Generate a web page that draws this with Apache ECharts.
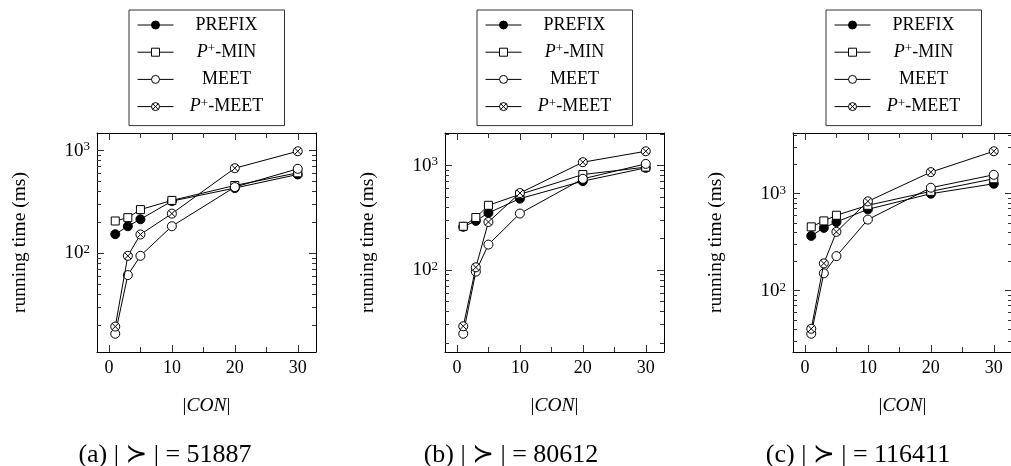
<!DOCTYPE html>
<html><head><meta charset="utf-8">
<script src="https://cdn.jsdelivr.net/npm/echarts@6/dist/echarts.min.js"></script>
<style>html,body{margin:0;padding:0;background:#fff}#c{width:1011px;height:466px}</style>
</head><body><div id="c"></div>
<script>
// ---------- data ----------
const conValues = [1, 3, 5, 10, 20, 30];
const seriesNames = ['PREFIX', 'P+-MIN', 'MEET', 'P+-MEET'];

const prefixA = [154, 184, 215, 323, 432, 586];
const pminA   = [207, 223, 267, 328, 458, 608];
const meetA   = [16.6, 61.7, 94.9, 184, 442, 665];
const pmeetA  = [19.5, 94.9, 153, 244, 674, 985];

const prefixB = [259, 295, 352, 482, 709, 950];
const pminB   = [262, 318, 416, 529, 820, 965];
const meetB   = [24.5, 96.4, 175, 347, 746, 1037];
const pmeetB  = [28.9, 106, 288, 545, 1076, 1370];

const prefixC = [367, 444, 511, 690, 1000, 1267];
const pminC   = [455, 524, 599, 759, 1057, 1426];
const meetC   = [35.9, 151, 227, 541, 1153, 1567];
const pmeetC  = [40.4, 191, 404, 834, 1670, 2742];

const captions = ['(a) | \u227B | = 51887', '(b) | \u227B | = 80612', '(c) | \u227B | = 116411'];
const xTickMajor = [0, 10, 20, 30];
const xTickMinor = [5, 15, 25];
const yDecades = [10, 100, 1000, 10000];
const yMinorMult = [2, 3, 4, 5, 6, 7, 8, 9];

// ---------- layout ----------
const panels = [[prefixA, pminA, meetA, pmeetA], [prefixB, pminB, meetB, pmeetB], [prefixC, pminC, meetC, pmeetC]];
const gridLefts = [97, 445, 793];
const gridTop = 133, gridW = 219, gridH = 219;
const legendLefts = [129, 477, 826];
const captionCenters = [160, 506, 853];
const SERIF = "'Liberation Serif','DejaVu Serif','DejaVu Sans',serif";
const OTIMES = 'path://M20,10A10,10,0,1,1,0,10A10,10,0,1,1,20,10ZM2.93,2.93L17.07,17.07M17.07,2.93L2.93,17.07';

const markerStyles = [
  {symbol: 'circle', symbolSize: 9, itemStyle: {color: '#000', borderColor: '#000', borderWidth: 1}},
  {symbol: 'rect', symbolSize: 8, itemStyle: {color: '#fff', borderColor: '#000', borderWidth: 1}},
  {symbol: 'circle', symbolSize: 9, itemStyle: {color: '#fff', borderColor: '#000', borderWidth: 1}},
  {symbol: OTIMES, symbolSize: 9, itemStyle: {color: '#fff', borderColor: '#000', borderWidth: 1}}
];

const xMin = Math.min(...conValues), xMax = Math.max(...conValues);
const xPad = (xMax - xMin) * 0.1;

const grids = [], xAxes = [], yAxes = [], series = [], legends = [], titles = [];

const tickLine = {color: '#333', width: 1};
const boxLine = {show: true, onZero: false, lineStyle: {color: '#000', width: 1}};

panels.forEach((vals, p) => {
  grids.push({left: gridLefts[p], top: gridTop, width: gridW, height: gridH, containLabel: false, outerBoundsMode: 'none'});
  const all = [].concat(...vals);
  const lo = Math.log10(Math.min(...all)), hi = Math.log10(Math.max(...all));
  const pad = (hi - lo) * 0.1;
  const yMin = Math.pow(10, lo - pad), yMax = Math.pow(10, hi + pad);
  const majors = yDecades.filter(v => v >= yMin && v <= yMax);
  const minors = [];
  yDecades.forEach(d => yMinorMult.forEach(k => { const v = d * k; if (v >= yMin && v <= yMax) minors.push(v); }));

  const xBase = {gridIndex: p, type: 'value', min: xMin - xPad, max: xMax + xPad, splitLine: {show: false}};
  xAxes.push(Object.assign({}, xBase, {
    position: 'bottom', axisLine: boxLine,
    axisTick: {show: true, inside: true, length: 7, customValues: xTickMajor, lineStyle: tickLine},
    axisLabel: {show: true, customValues: xTickMajor, margin: 7, color: '#000', fontFamily: SERIF, fontSize: 18},
    name: '|{i|CON}|', nameLocation: 'middle', nameGap: 44,
    nameTextStyle: {color: '#000', fontFamily: SERIF, fontSize: 19.5,
      rich: {i: {fontStyle: 'italic', fontFamily: SERIF, fontSize: 19.5, color: '#000'}}}
  }));
  xAxes.push(Object.assign({}, xBase, {
    position: 'bottom', axisLine: {show: false, onZero: false},
    axisTick: {show: true, inside: true, length: 5, customValues: xTickMinor, lineStyle: tickLine},
    axisLabel: {show: false}
  }));
  xAxes.push(Object.assign({}, xBase, {
    position: 'top', axisLine: boxLine,
    axisTick: {show: true, inside: true, length: 7, customValues: xTickMajor, lineStyle: tickLine},
    axisLabel: {show: false}
  }));
  xAxes.push(Object.assign({}, xBase, {
    position: 'top', axisLine: {show: false, onZero: false},
    axisTick: {show: true, inside: true, length: 5, customValues: xTickMinor, lineStyle: tickLine},
    axisLabel: {show: false}
  }));

  const yBase = {gridIndex: p, type: 'log', logBase: 10, min: yMin, max: yMax, splitLine: {show: false}};
  yAxes.push(Object.assign({}, yBase, {
    position: 'left', axisLine: boxLine,
    axisTick: {show: true, inside: true, length: 7, customValues: majors, lineStyle: tickLine},
    axisLabel: {show: true, customValues: majors, margin: 7, color: '#000',
      formatter: v => '{n|10}{s|' + Math.round(Math.log10(v)) + '}',
      rich: {n: {fontFamily: SERIF, fontSize: 19, color: '#000', lineHeight: 20},
             s: {fontFamily: SERIF, fontSize: 13, color: '#000', verticalAlign: 'top', lineHeight: 12}}},
    name: 'running time (ms)', nameLocation: 'middle', nameGap: 67,
    nameTextStyle: {color: '#000', fontFamily: SERIF, fontSize: 19.5}
  }));
  yAxes.push(Object.assign({}, yBase, {
    position: 'left', axisLine: {show: false, onZero: false},
    axisTick: {show: true, inside: true, length: 4, customValues: minors, lineStyle: tickLine},
    axisLabel: {show: false}
  }));
  yAxes.push(Object.assign({}, yBase, {
    position: 'right', axisLine: boxLine,
    axisTick: {show: true, inside: true, length: 7, customValues: majors, lineStyle: tickLine},
    axisLabel: {show: false}
  }));
  yAxes.push(Object.assign({}, yBase, {
    position: 'right', axisLine: {show: false, onZero: false},
    axisTick: {show: true, inside: true, length: 4, customValues: minors, lineStyle: tickLine},
    axisLabel: {show: false}
  }));

  vals.forEach((arr, s) => {
    series.push(Object.assign({
      type: 'line', name: seriesNames[s], xAxisIndex: p * 4, yAxisIndex: p * 4,
      data: conValues.map((x, i) => [x, arr[i]]),
      lineStyle: {color: '#000', width: 1}, color: '#000',
      symbolKeepAspect: true, showAllSymbol: true,
      emphasis: {disabled: true}, silent: true, z: 2 + s
    }, markerStyles[s]));
  });

  legends.push({
    left: legendLefts[p], top: 10, orient: 'vertical', data: seriesNames, selectedMode: false,
    itemWidth: 36, itemHeight: 10, itemGap: 7.2, padding: [5, 10, 9, 8],
    borderColor: '#333', borderWidth: 1, backgroundColor: '#fff',
    lineStyle: {width: 1, color: '#000'},
    itemStyle: {borderWidth: 1, borderColor: '#000'},
    formatter: name => name.indexOf('P+') === 0 ? '{i|P}{s|+}{n|' + name.slice(2) + '}' : '{n|' + name + '}',
    textStyle: {width: 96, color: '#000', fontFamily: SERIF, fontSize: 18, lineHeight: 20,
      rich: {
        n: {fontFamily: SERIF, fontSize: 18, color: '#000', align: 'center', lineHeight: 20},
        i: {fontFamily: SERIF, fontSize: 18, fontStyle: 'italic', color: '#000', align: 'center', lineHeight: 20},
        s: {fontFamily: SERIF, fontSize: 13, color: '#000', align: 'center', verticalAlign: 'top', lineHeight: 12}
      }}
  });

  titles.push({
    text: captions[p], left: captionCenters[p], textAlign: 'center', top: 435,
    textStyle: {fontFamily: SERIF, fontSize: 26, fontWeight: 'normal', color: '#000', lineHeight: 30}
  });
});

const chart = echarts.init(document.getElementById('c'));
chart.setOption({
  animation: false,
  backgroundColor: '#fff',
  title: titles,
  legend: legends,
  grid: grids,
  xAxis: xAxes,
  yAxis: yAxes,
  series: series
});
</script>
</body></html>
